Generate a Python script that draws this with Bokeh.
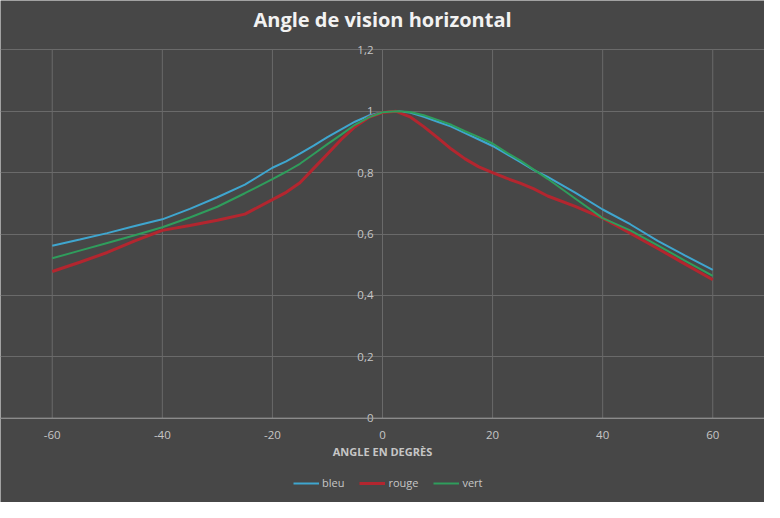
from bokeh.plotting import figure
from bokeh.models import FixedTicker, Range1d, Span
from bokeh.core.properties import value
from bokeh.embed import file_html
from bokeh.resources import INLINE

# ---- data ----
angles = [-60, -55, -50, -45, -40, -35, -30, -25, -20, -17.5, -15, -12.5, -10, -7.5, -5, -2.5, 0,
          2.5, 5, 7.5, 10, 12.5, 15, 17.5, 20, 22.5, 25, 27.5, 30, 35, 40, 45, 50, 55, 60]
bleu = [0.562, 0.582, 0.603, 0.626, 0.648, 0.682, 0.720, 0.761, 0.816, 0.837, 0.862, 0.888, 0.916,
        0.941, 0.966, 0.986, 0.997, 1.0, 0.996, 0.982, 0.966, 0.950, 0.929, 0.908, 0.887, 0.861,
        0.835, 0.808, 0.786, 0.735, 0.680, 0.632, 0.578, 0.530, 0.483]
rouge = [0.478, 0.508, 0.540, 0.578, 0.612, 0.628, 0.645, 0.665, 0.712, 0.736, 0.767, 0.814, 0.861,
         0.908, 0.950, 0.980, 0.996, 1.0, 0.982, 0.950, 0.914, 0.877, 0.845, 0.819, 0.800, 0.782,
         0.766, 0.747, 0.724, 0.690, 0.652, 0.603, 0.553, 0.502, 0.451]
vert = [0.521, 0.546, 0.571, 0.596, 0.622, 0.654, 0.689, 0.733, 0.779, 0.803, 0.829, 0.861, 0.893,
        0.924, 0.956, 0.980, 0.997, 1.0, 0.998, 0.987, 0.972, 0.956, 0.935, 0.916, 0.895, 0.866,
        0.840, 0.810, 0.780, 0.716, 0.652, 0.612, 0.563, 0.513, 0.464]
x_ticks = [-60, -40, -20, 0, 20, 40, 60]
x_tick_labels = ["-60", "-40", "-20", "0", "20", "40", "60"]
y_ticks = [0, 0.2, 0.4, 0.6, 0.8, 1.0, 1.2]
y_tick_labels = ["0", "0,2", "0,4", "0,6", "0,8", "1", "1,2"]
title_text = "Angle de vision horizontal"
x_title = "ANGLE EN DEGRÈS"

BG = "#474747"
GRID = "#6a6a6a"
TXT = "#c6c6c6"
FONT = "Open Sans"

# the whole canvas is the frame; the value axis crosses the category axis at x = 0
p = figure(width=764, height=502, output_backend="svg", toolbar_location=None,
           x_range=Range1d(-69.4, 69.4), y_range=Range1d(-0.2747, 1.361),
           min_border=0, min_border_left=0, min_border_right=0,
           min_border_top=0, min_border_bottom=0)

p.background_fill_color = BG
p.border_fill_color = BG
p.outline_line_color = None

for ax in p.xaxis + p.yaxis:
    ax.visible = False
p.yaxis[0].ticker = FixedTicker(ticks=y_ticks)
p.ygrid.ticker = FixedTicker(ticks=y_ticks)
p.ygrid.grid_line_color = GRID
p.xgrid.visible = False

# vertical grid lines, from 0 up to the top value
p.segment(x0=x_ticks, y0=[y_ticks[0]] * len(x_ticks), x1=x_ticks, y1=[y_ticks[-1]] * len(x_ticks),
          line_color=GRID, line_width=1)
# horizontal axis line at y = 0
p.add_layout(Span(location=y_ticks[0], dimension="width", line_color="#9a9a9a", line_width=1))

# title
p.text(x=[0], y=[y_ticks[-1]], text=[title_text], y_offset=-30, text_align="center",
       text_baseline="middle", text_color="#f2f2f2", text_font=value(FONT),
       text_font_style="bold", text_font_size="20px")

# x tick labels and axis title below the y = 0 line
p.text(x=x_ticks, y=[y_ticks[0]] * len(x_ticks), text=x_tick_labels, y_offset=17,
       text_align="center", text_baseline="middle", text_color=TXT, text_font=value(FONT),
       text_font_size="11.5px")
p.text(x=[0], y=[y_ticks[0]], text=[x_title], y_offset=33, text_align="center",
       text_baseline="middle", text_color=TXT, text_font=value(FONT),
       text_font_style="bold", text_font_size="11px")

# y tick labels placed along x = 0
p.text(x=[0] * len(y_ticks), y=y_ticks, text=y_tick_labels, x_offset=-9, text_align="right",
       text_baseline="middle", text_color=TXT, text_font=value(FONT), text_font_size="11.5px")

p.line(angles, bleu, line_color="#3fa6cf", line_width=2, legend_label="bleu")
p.line(angles, rouge, line_color="#b3262f", line_width=3, legend_label="rouge")
p.line(angles, vert, line_color="#2f9d5c", line_width=2, legend_label="vert")

lg = p.legend[0]
lg.location = (293, 12)
lg.orientation = "horizontal"
lg.background_fill_alpha = 0
lg.border_line_color = None
lg.label_text_color = TXT
lg.label_text_font = FONT
lg.label_text_font_size = "11px"
lg.glyph_width = 26
lg.glyph_height = 14
lg.label_height = 14
lg.label_standoff = 3
lg.spacing = 15
lg.padding = 2
lg.margin = 0

open("out.html", "w").write(file_html(p, INLINE))
